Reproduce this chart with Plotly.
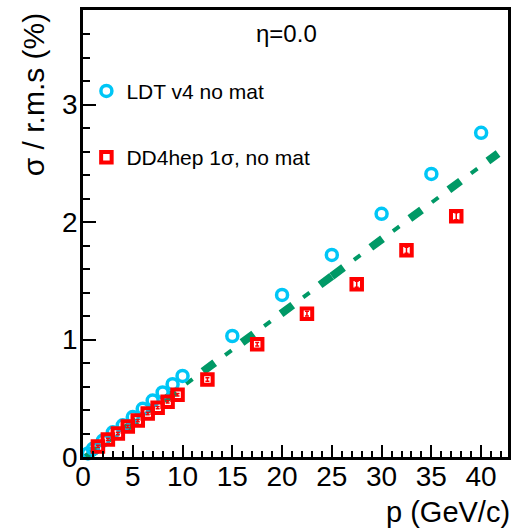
import plotly.graph_objects as go

# Momentum resolution at eta = 0
ldt_p = [0.5, 1, 2, 3, 4, 5, 6, 7, 8, 9, 10, 15, 20, 25, 30, 35, 40]
ldt_sigma = [0.03, 0.07, 0.14, 0.21, 0.27, 0.34, 0.41, 0.48, 0.55, 0.62,
             0.69, 1.03, 1.38, 1.72, 2.07, 2.41, 2.76]

dd4_p = [1.5, 2.5, 3.5, 4.5, 5.5, 6.5, 7.5, 8.5, 9.5, 12.5, 17.5, 22.5,
         27.5, 32.5, 37.5]
dd4_sigma = [0.09, 0.15, 0.20, 0.26, 0.31, 0.37, 0.42, 0.47, 0.53, 0.66,
             0.96, 1.22, 1.47, 1.76, 2.05]
dd4_err = [0.01, 0.01, 0.01, 0.01, 0.01, 0.01, 0.01, 0.01, 0.01, 0.015,
           0.015, 0.02, 0.025, 0.025, 0.03]

# linear fit, drawn as two segments (0.3-25, 25-41.7)
fit_p = [0.3, 25.0, None, 25.0, 41.7]
fit_sigma = [-0.007, 1.539, None, 1.539, 2.584]

x_ticks = [0, 5, 10, 15, 20, 25, 30, 35, 40]
y_ticks = [0, 1, 2, 3]

CYAN = "#00C6F6"
RED = "#FF0000"
GREEN = "#009966"
FONT = "Liberation Sans, Arial, sans-serif"

fig = go.Figure()

# thick dashes of the fit line
fig.add_trace(go.Scatter(
    x=fit_p, y=fit_sigma, mode="lines", connectgaps=False,
    line=dict(color=GREEN, width=8, dash="14.5px,34px"),
    showlegend=False, hoverinfo="skip", cliponaxis=False))
# thin dots of the fit line
fig.add_trace(go.Scatter(
    x=fit_p, y=fit_sigma, mode="lines", connectgaps=False,
    line=dict(color=GREEN, width=4, dash="0px,27.5px,8px,13px"),
    showlegend=False, hoverinfo="skip", cliponaxis=False))

fig.add_trace(go.Scatter(
    x=ldt_p, y=ldt_sigma, mode="markers", name="LDT v4 no mat",
    legendgroup="a", cliponaxis=False,
    marker=dict(symbol="circle-open", size=11, color=CYAN,
                line=dict(color=CYAN, width=3.5))))

fig.add_trace(go.Scatter(
    x=dd4_p, y=dd4_sigma, mode="markers", name="DD4hep 1\u03c3, no mat",
    legendgroup="b", cliponaxis=False,
    error_y=dict(type="data", array=dd4_err, color=RED, thickness=1.5,
                 width=2),
    marker=dict(symbol="square-open", size=10.5, color=RED,
                line=dict(color=RED, width=4))))

fig.add_annotation(text="\u03b7=0.0", xref="paper", yref="paper",
                   x=0.478, y=0.981, showarrow=False,
                   font=dict(family=FONT, size=24, color="black"))
fig.add_annotation(text="p (GeV/c)", xref="paper", yref="paper",
                   x=1.006, y=-0.124, xanchor="right", yanchor="middle",
                   showarrow=False, borderpad=0,
                   font=dict(family=FONT, size=29, color="black"))
fig.add_annotation(text="\u03c3 / r.m.s (%)", xref="paper", yref="paper",
                   x=-0.117, y=1.0, xanchor="center", yanchor="top",
                   textangle=-90, showarrow=False,
                   font=dict(family=FONT, size=30, color="black"))

axis_common = dict(
    showgrid=False, zeroline=False, showline=True, linecolor="black",
    linewidth=2.5, mirror=True, ticks="inside", tickcolor="black",
    tickwidth=2, tickfont=dict(family=FONT, size=28, color="black"))

fig.update_xaxes(range=[0, 42.7], tickvals=x_ticks, ticklen=12.5,
                 ticklabelstandoff=-7,
                 minor=dict(dtick=1, ticks="inside", ticklen=6,
                            tickwidth=2, tickcolor="black"),
                 **axis_common)
fig.update_yaxes(range=[0, 3.805], tickvals=y_ticks, ticklen=13,
                 ticklabelstandoff=-3,
                 minor=dict(dtick=0.2, ticks="inside", ticklen=7,
                            tickwidth=2, tickcolor="black"),
                 **axis_common)

fig.update_layout(
    width=514, height=530,
    margin=dict(l=83, r=3, t=10, b=73),
    paper_bgcolor="white", plot_bgcolor="white",
    font=dict(family=FONT, color="black"),
    legend=dict(x=0.008, y=0.864, xanchor="left", yanchor="top",
                bgcolor="rgba(0,0,0,0)", traceorder="grouped",
                tracegroupgap=36, font=dict(family=FONT, size=21)),
)

fig.write_html("out.html")
